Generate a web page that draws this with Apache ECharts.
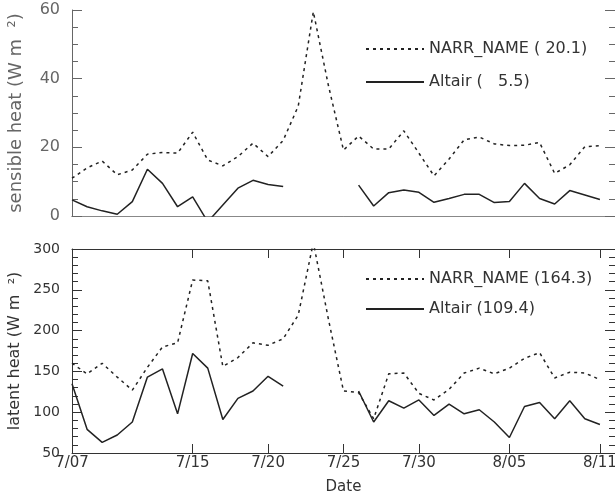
<!DOCTYPE html>
<html>
<head>
<meta charset="utf-8">
<script src="https://cdn.jsdelivr.net/npm/echarts@6/dist/echarts.min.js"></script>
<style>html,body{margin:0;padding:0;background:#fff;}#c{width:615px;height:492px;}</style>
</head>
<body>
<div id="c"></div>
<script>
const dates = ['7/07','7/08','7/09','7/10','7/11','7/12','7/13','7/14','7/15','7/16','7/17','7/18','7/19','7/20','7/21','7/22','7/23','7/24','7/25','7/26','7/27','7/28','7/29','7/30','7/31','8/01','8/02','8/03','8/04','8/05','8/06','8/07','8/08','8/09','8/10','8/11','8/12'];
const tickLabels = ['7/07','7/15','7/20','7/25','7/30','8/05','8/11'];
const seriesNames = ['NARR_NAME', 'Altair'];
const sensMeans = ['( 20.1)', '(   5.5)'];
const latMeans = ['(164.3)', '(109.4)'];
const sensNarr = [11, 14, 16, 12, 13.4, 18, 18.5, 18.3, 24.4, 16.3, 14.6, 17.3, 21.2, 17.3, 22, 32, 59.5, 38, 19.2, 23.3, 19.5, 19.5, 24.8, 18.3, 11.7, 16.6, 22.2, 23, 21, 20.5, 20.6, 21.4, 12.4, 14.9, 20.2, 20.5];
const sensAltair = [4.7, 2.7, 1.5, 0.5, 4.2, 13.6, 9.5, 2.7, 5.6, -1.7, 3.2, 8.1, 10.4, 9.2, 8.6, null, null, null, null, 9, 2.9, 6.8, 7.6, 6.9, 4, 5.1, 6.3, 6.3, 3.9, 4.2, 9.5, 5.1, 3.5, 7.4, 6.1, 4.8];
const latNarr = [160, 147, 160, 143, 127, 155, 180, 185, 262, 261, 156, 167, 185, 182, 190, 219, 308, 214, 126, 124, 92, 147, 148, 123, 115, 128, 148, 154, 147, 154, 166, 173, 142, 149, 148, 140];
const latAltair = [135, 79, 63, 72, 88, 143, 153, 98, 172, 154, 91, 117, 126, 144, 132, null, null, null, null, 126, 88, 114, 105, 115, 96, 110, 98, 103, 88, 69, 107, 112, 92, 114, 92, 85];
const sensTicks = [0, 20, 40, 60];
const latTicks = [50, 100, 150, 200, 250, 300];
const yNames = ['sensible heat (W m  \u00b2)', 'latent heat (W m  \u00b2)'];
const xName = 'Date';

const FONT = 'DejaVu Sans';
const sensLegend = seriesNames.map((n, i) => n + ' ' + sensMeans[i]);
const latLegend = seriesNames.map((n, i) => n + ' ' + latMeans[i]);
const isTick = (i, v) => tickLabels.indexOf(v) >= 0 && i > 0;
const isLabel = (i, v) => tickLabels.indexOf(v) >= 0;

function yAx(gi, ticks, pos, color, showLabel, minorSplit, labelSize, nameIdx, nameSize) {
  const o = {
    type: 'value', gridIndex: gi, position: pos,
    min: ticks[0], max: ticks[ticks.length - 1], interval: ticks[1] - ticks[0],
    axisLine: {show: true, lineStyle: {color: color, width: 1}},
    axisTick: {show: true, inside: true, length: 10, lineStyle: {color: color}},
    minorTick: {show: true, splitNumber: minorSplit, length: 6, lineStyle: {color: color}},
    splitLine: {show: false},
    axisLabel: {show: showLabel, fontSize: labelSize, color: color, fontFamily: FONT, margin: 12}
  };
  if (nameIdx !== null) {
    o.name = yNames[nameIdx];
    o.nameLocation = 'middle';
    o.nameGap = 47;
    o.nameRotate = 90;
    o.nameTextStyle = {fontSize: nameSize, color: color, fontFamily: FONT};
  }
  return o;
}

const dotted = {type: [3, 4], width: 1.5, color: '#222'};
const solid = {type: 'solid', width: 1.5, color: '#222'};
const legendBase = {orient: 'vertical', left: 360, itemWidth: 58, itemHeight: 18, selectedMode: false,
  itemStyle: {opacity: 0, borderWidth: 0},
  textStyle: {fontSize: 16, color: '#333', fontFamily: FONT}};

const option = {
  animation: false,
  backgroundColor: '#fff',
  textStyle: {fontFamily: FONT},
  grid: [
    {left: 72, right: 0, top: 10, height: 206, outerBoundsMode: 'none', containLabel: false},
    {left: 72, right: 0, top: 249, height: 204, outerBoundsMode: 'none', containLabel: false}
  ],
  legend: [
    Object.assign({}, legendBase, {data: sensLegend, top: 36, itemGap: 17}),
    Object.assign({}, legendBase, {data: latLegend, top: 266, itemGap: 14})
  ],
  xAxis: [
    {type: 'category', gridIndex: 0, data: dates, boundaryGap: false, position: 'bottom',
     axisLine: {lineStyle: {color: '#888'}}, axisTick: {show: false}, axisLabel: {show: false}},
    {type: 'category', gridIndex: 0, data: dates, boundaryGap: false, position: 'top',
     axisLine: {lineStyle: {color: '#888'}}, axisTick: {show: false}, axisLabel: {show: false}},
    {type: 'category', gridIndex: 1, data: dates, boundaryGap: false, position: 'bottom',
     axisLine: {lineStyle: {color: '#333'}},
     axisTick: {show: true, inside: true, length: 9, interval: isTick, lineStyle: {color: '#333'}},
     axisLabel: {show: true, interval: isLabel, fontSize: 15, color: '#333', fontFamily: FONT, margin: 3},
     name: xName, nameLocation: 'middle', nameGap: 27, nameTextStyle: {fontSize: 15, color: '#333', fontFamily: FONT}},
    {type: 'category', gridIndex: 1, data: dates, boundaryGap: false, position: 'top',
     axisLine: {lineStyle: {color: '#333'}},
     axisTick: {show: true, inside: true, length: 9, interval: isTick, lineStyle: {color: '#333'}},
     axisLabel: {show: false}}
  ],
  yAxis: [
    yAx(0, sensTicks, 'left', '#666', true, 4, 16, 0, 18),
    yAx(0, sensTicks, 'right', '#666', false, 4, 16, null, 0),
    yAx(1, latTicks, 'left', '#333', true, 5, 14, 1, 16),
    yAx(1, latTicks, 'right', '#333', false, 5, 14, null, 0)
  ],
  series: [
    {name: sensLegend[0], type: 'line', xAxisIndex: 0, yAxisIndex: 0, data: sensNarr, symbol: 'none', lineStyle: dotted, itemStyle: {color: '#222'}},
    {name: sensLegend[1], type: 'line', xAxisIndex: 0, yAxisIndex: 0, data: sensAltair, symbol: 'none', lineStyle: solid, itemStyle: {color: '#222'}},
    {name: latLegend[0], type: 'line', xAxisIndex: 2, yAxisIndex: 2, data: latNarr, symbol: 'none', lineStyle: dotted, itemStyle: {color: '#222'}},
    {name: latLegend[1], type: 'line', xAxisIndex: 2, yAxisIndex: 2, data: latAltair, symbol: 'none', lineStyle: solid, itemStyle: {color: '#222'}}
  ]
};
const chart = echarts.init(document.getElementById('c'), null, {renderer: 'canvas'});
chart.setOption(option);
</script>
</body>
</html>
